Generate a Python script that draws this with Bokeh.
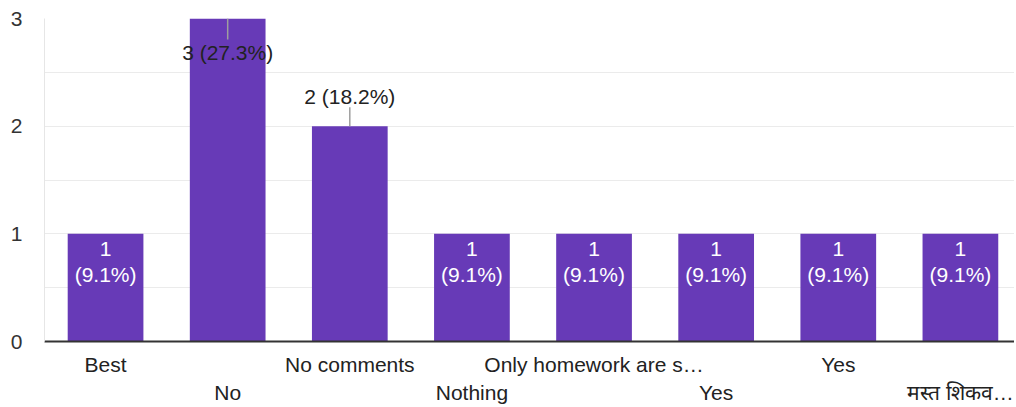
from bokeh.plotting import figure
from bokeh.models import Range1d, FixedTicker, LinearAxis, ColumnDataSource
from bokeh.core.properties import value
from bokeh.embed import file_html
from bokeh.resources import INLINE

categories = ["Best", "No", "No comments", "Nothing", "Only homework are s…", "Yes", "Yes", "मस्त शिकव…"]
counts = [1, 3, 2, 1, 1, 1, 1, 1]
percents = [9.1, 27.3, 18.2, 9.1, 9.1, 9.1, 9.1, 9.1]
y_ticks = [0, 1, 2, 3]
y_minor = [0.5, 1.5, 2.5]

FONT = "Liberation Sans"
BAR = "#673ab7"
FS = "21px"
ymax = max(y_ticks)

xs = list(range(len(categories)))

p = figure(width=1014, height=406, output_backend="svg", toolbar_location=None,
           x_range=Range1d(-0.5, 7.443), y_range=Range1d(0, ymax),
           min_border_left=44, min_border_right=0, min_border_top=18, min_border_bottom=0)
p.outline_line_color = None
p.background_fill_color = "white"
p.xgrid.visible = False
p.ygrid.ticker = FixedTicker(ticks=y_ticks, minor_ticks=y_minor)
p.ygrid.grid_line_color = "#ebebeb"
p.ygrid.minor_grid_line_color = "#ebebeb"

src = ColumnDataSource(dict(x=xs, top=counts))
p.vbar(x="x", top="top", width=0.62, bottom=0, source=src, fill_color=BAR, line_color=None)

# y axis
ya = p.yaxis[0]
ya.ticker = FixedTicker(ticks=y_ticks)
ya.axis_line_color = "#e6e6e6"
ya.major_tick_line_color = None
ya.minor_tick_line_color = None
ya.major_tick_out = 0
ya.minor_tick_out = 0
ya.major_label_standoff = 22
ya.major_label_text_font = FONT
ya.major_label_text_font_size = FS
ya.major_label_text_color = "#333333"

# x axes (staggered labels)
even = [i for i in xs if i % 2 == 0]
odd = [i for i in xs if i % 2 == 1]
xa = p.xaxis[0]
xa.ticker = FixedTicker(ticks=even)
xa.major_label_overrides = {i: categories[i] for i in even}
xa.axis_line_color = "#333333"
xa.axis_line_width = 2
xa.major_tick_line_color = None
xa.minor_tick_line_color = None
xa.major_tick_out = 0
xa.minor_tick_out = 0
xa.major_label_standoff = 11
xa.major_label_text_font = FONT
xa.major_label_text_font_size = FS
xa.major_label_text_color = "#222222"

xb = LinearAxis(ticker=FixedTicker(ticks=odd), major_label_overrides={i: categories[i] for i in odd})
xb.axis_line_color = None
xb.major_tick_line_color = None
xb.minor_tick_line_color = None
xb.major_tick_out = 0
xb.minor_tick_out = 0
xb.major_label_standoff = 2
xb.major_label_text_font = FONT
xb.major_label_text_font_size = FS
xb.major_label_text_color = "#222222"
p.add_layout(xb, "below")

# labels
ix = [i for i in xs if counts[i] < 2]
inside = ColumnDataSource(dict(x=ix, y=[counts[i] for i in ix],
                               c=[str(counts[i]) for i in ix],
                               pc=["(%.1f%%)" % percents[i] for i in ix]))
p.text(x="x", y="y", text="c", source=inside, text_align="center", text_baseline="middle",
       y_offset=15, text_color="white", text_font=value(FONT), text_font_size=FS)
p.text(x="x", y="y", text="pc", source=inside, text_align="center", text_baseline="middle",
       y_offset=41, text_color="white", text_font=value(FONT), text_font_size=FS)

ppu = 323.0 / ymax
for i in xs:
    c = counts[i]
    if c < 2:
        continue
    lab = "%d (%.1f%%)" % (c, percents[i])
    if c < ymax:
        p.segment(x0=[i], y0=[c], x1=[i], y1=[c + 19 / ppu], line_color="#9e9e9e", line_width=1.5)
        p.text(x=[i], y=[c], text=[lab], text_align="center", text_baseline="middle", y_offset=-30,
               text_color="#222222", text_font=value(FONT), text_font_size=FS)
    else:
        p.segment(x0=[i], y0=[c], x1=[i], y1=[c - 21 / ppu], line_color="#9e9e9e", line_width=1.5)
        p.text(x=[i], y=[c], text=[lab], text_align="center", text_baseline="middle", y_offset=34,
               text_color="#222222", text_font=value(FONT), text_font_size=FS)

open("out.html", "w").write(file_html(p, INLINE))
